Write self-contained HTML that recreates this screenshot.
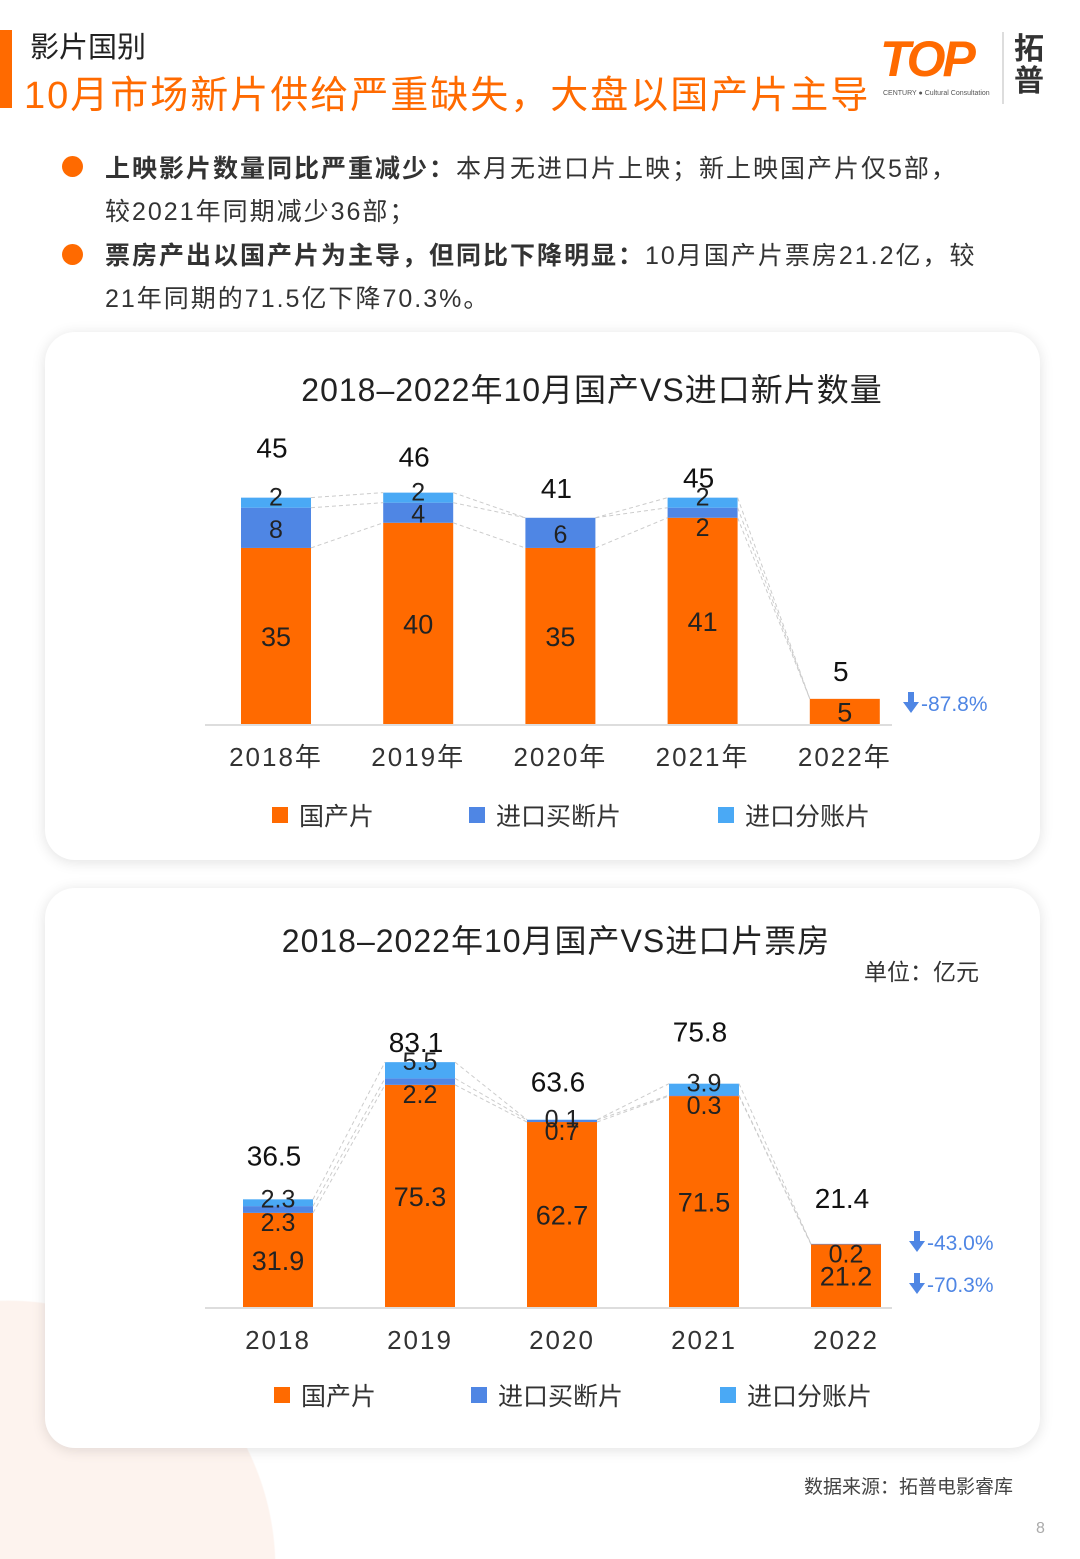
<!DOCTYPE html>
<html><head><meta charset="utf-8">
<style>
html,body{margin:0;padding:0;width:1080px;height:1559px;overflow:hidden}
body{position:relative;background:#fff;font-family:"Liberation Sans","Noto Sans CJK SC",sans-serif;color:#222}
.abs{position:absolute}
.card{position:absolute;left:45px;width:995px;background:#fff;border-radius:30px;box-shadow:0 2px 14px rgba(0,0,0,0.12)}
.bul{position:absolute;left:105px;font-size:25px;line-height:43px;color:#333;white-space:nowrap;letter-spacing:2px}
.dot{position:absolute;left:62px;width:21px;height:21px;border-radius:50%;background:#ff6a00}
</style></head><body>
<div class="abs" style="left:0;top:1300px;width:280px;height:259px;background:radial-gradient(circle 268px at 8px 268px,#fdf3ee 99.5%,rgba(255,255,255,0) 100%)"></div>
<div class="abs" style="left:0;top:30px;width:12px;height:78px;background:#ff6a00"></div>
<div class="abs" style="left:30px;top:24px;font-size:29px;color:#222">影片国别</div>
<div class="abs" style="left:24px;top:64px;font-size:38px;color:#ff6a00;white-space:nowrap;letter-spacing:2px">10月市场新片供给严重缺失，大盘以国产片主导</div>
<div class="abs" style="left:880px;top:30px;width:170px;height:75px">
 <div style="position:absolute;left:0;top:0;font-size:50px;font-weight:bold;color:#ff6a00;letter-spacing:-3px;font-style:italic">TOP</div>
 <div style="position:absolute;left:3px;top:60px;font-size:7px;color:#555;white-space:nowrap">CENTURY ● Cultural Consultation</div>
 <div style="position:absolute;left:122px;top:2px;width:2px;height:72px;background:#ddd"></div>
 <div style="position:absolute;left:134px;top:4px;font-size:30px;font-weight:bold;line-height:32px;color:#333">拓<br>普</div>
</div>
<div class="dot" style="top:156px"></div>
<div class="bul" style="top:148px"><b style="font-weight:600">上映影片数量同比严重减少：</b>本月无进口片上映；新上映国产片仅5部，<br>较2021年同期减少36部；</div>
<div class="dot" style="top:244px"></div>
<div class="bul" style="top:235px"><b style="font-weight:600">票房产出以国产片为主导，但同比下降明显：</b>10月国产片票房21.2亿，较<br>21年同期的71.5亿下降70.3%。</div>
<div class="card" style="top:332px;height:528px"></div>
<div class="card" style="top:888px;height:560px"></div>
<div class="abs" style="left:804px;top:1472px;font-size:19px;color:#444;white-space:nowrap">数据来源：拓普电影睿库</div>
<div class="abs" style="left:1036px;top:1520px;font-size:16px;color:#aaa">8</div>
<svg id="svg" class="abs" style="left:0;top:0" width="1080" height="1559" font-family="Liberation Sans, Noto Sans CJK SC, sans-serif"></svg>
<script>
// Chart 1: new film counts
const years1 = ["2018年","2019年","2020年","2021年","2022年"];
const dom1 = [35,40,35,41,5];
const buy1 = [8,4,6,2,0];
const split1 = [2,2,0,2,0];
const tot1 = [45,46,41,45,5];
// Chart 2: box office (亿元)
const years2 = ["2018","2019","2020","2021","2022"];
const dom2 = [31.9,75.3,62.7,71.5,21.2];
const buy2 = [2.3,2.2,0.7,0.3,0.2];
const split2 = [2.3,5.5,0.1,3.9,0];
const tot2 = ["36.5","83.1","63.6","75.8","21.4"];
const chg1 = ["-87.8%"];
const chg2 = ["-43.0%","-70.3%"];

const S=document.getElementById('svg'),NS="http://www.w3.org/2000/svg";
function mk(t,a,txt){const e=document.createElementNS(NS,t);for(const k in a)e.setAttribute(k,a[k]);if(txt!==undefined)e.textContent=txt;S.appendChild(e);return e;}
const C={dom:"#ff6a00",buy:"#4f86e4",split:"#4aa9f5"};
function chart(o){
  const x=i=>o.x0+i*o.dx, y=v=>o.base-v*o.k, w=70;
  let t=mk('text',{x:o.tx,y:o.ty,'text-anchor':'middle','font-size':32,fill:'#222','letter-spacing':1},o.title);
  
  let ax=mk('line',{x1:o.ax0,x2:o.ax1,y1:o.base+1,y2:o.base+1,stroke:'#ddd','stroke-width':2});
  
  const tops=[];
  o.dom.forEach((d,i)=>{
    const segs=[[o.dom[i],C.dom,'domestic'],[o.buy[i],C.buy,'buyout'],[o.split[i],C.split,'split']];
    let acc=0;const b=[];
    segs.forEach(([v,c,n])=>{
      const y1=y(acc+v),y0=y(acc);b.push(y0);
      if(v>0){const r=mk('rect',{x:x(i)-w/2,y:y1,width:w,height:y0-y1,fill:c});
        
        let ly=(y0+y1)/2+10; if(n==='buyout'&&y0-y1<20) ly=y0+18; if(n==='split'&&y0-y1<20) ly=y1+8;
        const l=mk('text',{x:x(i),y:ly,'text-anchor':'middle','font-size':n==='domestic'?27:25,fill:'#222'},String(v));
        }
      acc+=v;
    });
    b.push(y(acc));tops.push(b);
    const tl=mk('text',{x:x(i)-4,y:y(acc)-o.tg[i],'text-anchor':'middle','font-size':28,fill:'#111'},String(o.tot[i]));
    
    const yl=mk('text',{x:x(i),y:o.base+42,'text-anchor':'middle','font-size':26,fill:'#333','letter-spacing':2},o.years[i]);
    
  });
  for(let i=0;i<tops.length-1;i++)for(let j=1;j<4;j++){
    const l=mk('line',{x1:x(i)+w/2,y1:tops[i][j],x2:x(i+1)-w/2,y2:tops[i+1][j],stroke:'#ccc','stroke-dasharray':'4,3','stroke-width':1});
    
  }
  o.chg.forEach((c,k)=>{
    const cy=o.cy[k];
    const g=mk('path',{d:`M${o.cx-3} ${cy-12}h6v10h5l-8 11l-8-11h5z`,fill:'#4f86e4'});
    
    const t=mk('text',{x:o.cx+10,y:cy+7,'font-size':21,fill:'#4f86e4'},c);
    
  });
  const lg=[['国产片',C.dom],['进口买断片',C.buy],['进口分账片',C.split]];
  lg.forEach(([n,c],k)=>{
    const lx=o.lx[k];
    const r=mk('rect',{x:lx,y:o.ly-8,width:16,height:16,fill:c});
    
    const t=mk('text',{x:lx+27,y:o.ly+10,'font-size':25,fill:'#333'},n);
    
  });
}
chart({title:'2018–2022年10月国产VS进口新片数量',tx:592,ty:401,x0:276,dx:142.2,base:724,k:5.03,ax0:205,ax1:892,
  years:years1,dom:dom1,buy:buy1,split:split1,tot:tot1,tg:[40,26,20,10,18],chg:chg1,cx:911,cy:[704],lx:[272,469,718],ly:815});
chart({title:'2018–2022年10月国产VS进口片票房',tx:556,ty:952,x0:278,dx:142,base:1307,k:2.95,ax0:205,ax1:892,
  years:years2,dom:dom2,buy:buy2,split:split2,tot:tot2,tg:[34,10,28,42,36],chg:chg2,cx:917,cy:[1243,1285],lx:[274,471,720],ly:1395});
const u=mk('text',{x:864,y:980,'font-size':23,fill:'#333'},'单位：亿元');

</script>
</body></html>
